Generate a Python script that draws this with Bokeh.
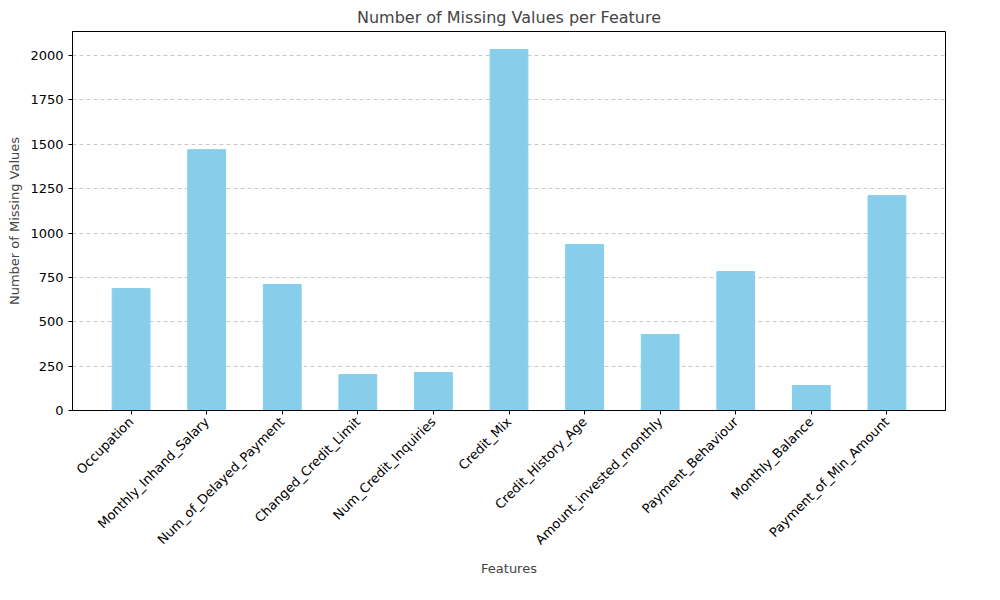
import math
from bokeh.embed import file_html
from bokeh.models import FactorRange, Range1d, SingleIntervalTicker
from bokeh.plotting import figure
from bokeh.resources import INLINE

features = [
    "Occupation", "Monthly_Inhand_Salary", "Num_of_Delayed_Payment",
    "Changed_Credit_Limit", "Num_Credit_Inquiries", "Credit_Mix",
    "Credit_History_Age", "Amount_invested_monthly", "Payment_Behaviour",
    "Monthly_Balance", "Payment_of_Min_Amount",
]
missing = [687, 1470, 710, 203, 214, 2034, 935, 428, 783, 141, 1211]

FONT = "DejaVu Sans"

p = figure(
    x_range=FactorRange(*features, range_padding=0.05),
    y_range=Range1d(0, 2136),
    frame_width=873, frame_height=379,
    min_border_left=72, min_border_right=39, min_border_top=28, min_border_bottom=10,
    title="Number of Missing Values per Feature",
    x_axis_label="Features", y_axis_label="Number of Missing Values",
    toolbar_location=None, output_backend="svg",
)
p.vbar(x=features, top=missing, width=0.5, color="#87ceeb")

p.title.align = "center"
p.title.text_font = FONT
p.title.text_font_size = "16px"
p.title.text_font_style = "normal"

for ax in (p.xaxis, p.yaxis):
    ax.axis_label_text_font = FONT
    ax.axis_label_text_font_size = "13px"
    ax.axis_label_text_font_style = "normal"
    ax.major_label_text_font = FONT
    ax.major_label_text_font_size = "13px"
    ax.major_label_text_color = "black"
    ax.minor_tick_line_color = None
    ax.major_tick_in = 0
    ax.major_tick_out = 4

p.xaxis.major_label_orientation = math.pi / 4
p.yaxis.ticker = SingleIntervalTicker(interval=250)
p.xgrid.grid_line_color = None
p.ygrid.grid_line_dash = "4 3"
p.ygrid.grid_line_color = "#b0b0b0"
p.ygrid.grid_line_alpha = 0.7
p.outline_line_color = "black"

open("out.html", "w").write(file_html(p, INLINE))
